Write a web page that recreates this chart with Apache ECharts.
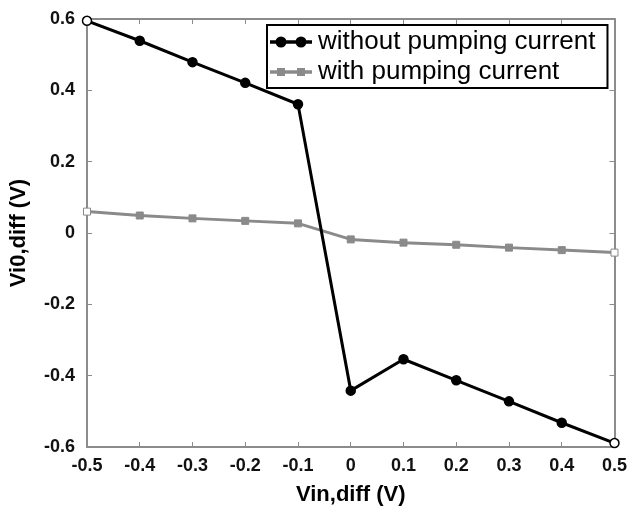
<!DOCTYPE html>
<html>
<head>
<meta charset="utf-8">
<script src="https://cdn.jsdelivr.net/npm/echarts@6/dist/echarts.min.js"></script>
<style>
  html, body { margin: 0; padding: 0; background: #fff; }
  #chart { width: 630px; height: 511px; }
</style>
</head>
<body>
<div id="chart"></div>
<script>
// Differential input voltage sweep (V)
const vinDiff = [-0.5, -0.4, -0.3, -0.2, -0.1, 0, 0.1, 0.2, 0.3, 0.4, 0.5];
// Differential offset output without the pumping current (V)
const withoutPumping = [0.595, 0.539, 0.479, 0.421, 0.361, -0.442, -0.354, -0.413, -0.472, -0.532, -0.589];
// Differential offset output with the pumping current (V)
const withPumping = [0.060, 0.049, 0.041, 0.034, 0.027, -0.018, -0.027, -0.033, -0.041, -0.048, -0.055];

const seriesNames = ['without pumping current', 'with pumping current'];

const AXIS_GREY = '#8c8c8c';
const LINE_GREY = '#8a8a8a';

// end points are drawn as open markers
function toPoints(xs, ys) {
  return xs.map((x, i) => {
    const p = { value: [x, ys[i]] };
    if (i === 0 || i === xs.length - 1) p.itemStyle = { color: '#fff' };
    return p;
  });
}

// legend glyphs: a line segment carrying two markers
const circleIcon = 'path://M0,4.2 L40,4.2 L40,5.8 L0,5.8 Z ' +
  'M10,5 m-4.5,0 a4.5,4.5 0 1,0 9,0 a4.5,4.5 0 1,0 -9,0 Z ' +
  'M30,5 m-4.5,0 a4.5,4.5 0 1,0 9,0 a4.5,4.5 0 1,0 -9,0 Z';
const squareIcon = 'path://M0,4.2 L40,4.2 L40,5.8 L0,5.8 Z ' +
  'M7,2 L13,2 L13,8 L7,8 Z M27,2 L33,2 L33,8 L27,8 Z';

const FONT = 'Liberation Sans, Arial, sans-serif';
const tickLabel = { fontFamily: FONT, fontWeight: 'bold', fontSize: 18, color: '#111' };
const titleStyle = { fontFamily: FONT, fontWeight: 'bold', fontSize: 22, color: '#000' };

const chart = echarts.init(document.getElementById('chart'), null, { renderer: 'canvas' });
chart.setOption({
  animation: false,
  backgroundColor: '#fff',
  grid: { left: 85, right: 14, top: 19, bottom: 63 },
  legend: {
    left: 267, top: 25,
    orient: 'vertical',
    backgroundColor: '#fff',
    borderColor: '#000', borderWidth: 2,
    padding: [4, 12, 3, 3],
    itemGap: 4,
    itemWidth: 40, itemHeight: 10,
    textStyle: { fontFamily: FONT, fontSize: 26, color: '#000', padding: [0, 0, 0, 2] },
    data: [
      { name: seriesNames[0], icon: circleIcon, itemStyle: { color: '#000' } },
      { name: seriesNames[1], icon: squareIcon, itemStyle: { color: LINE_GREY } }
    ]
  },
  xAxis: [{
    type: 'value', min: -0.5, max: 0.5, interval: 0.1,
    name: 'Vin,diff (V)', nameLocation: 'middle', nameGap: 37,
    nameTextStyle: titleStyle,
    axisLine: { onZero: false, lineStyle: { color: AXIS_GREY, width: 2 } },
    axisTick: { inside: true, length: 5, lineStyle: { color: AXIS_GREY } },
    axisLabel: Object.assign({ margin: 10 }, tickLabel),
    splitLine: { show: false }
  }, {
    type: 'value', position: 'top', min: -0.5, max: 0.5, interval: 0.1,
    axisLine: { onZero: false, lineStyle: { color: AXIS_GREY, width: 2 } },
    axisTick: { inside: true, length: 5, lineStyle: { color: AXIS_GREY } },
    axisLabel: { show: false }, splitLine: { show: false }
  }],
  yAxis: [{
    type: 'value', min: -0.6, max: 0.6, interval: 0.2,
    name: 'Vi0,diff (V)', nameLocation: 'middle', nameGap: 57,
    nameTextStyle: titleStyle,
    axisLine: { onZero: false, lineStyle: { color: AXIS_GREY, width: 2 } },
    axisTick: { inside: true, length: 5, lineStyle: { color: AXIS_GREY } },
    axisLabel: Object.assign({ margin: 12 }, tickLabel),
    splitLine: { show: false }
  }, {
    type: 'value', position: 'right', min: -0.6, max: 0.6, interval: 0.2,
    axisLine: { onZero: false, lineStyle: { color: AXIS_GREY, width: 2 } },
    axisTick: { inside: true, length: 5, lineStyle: { color: AXIS_GREY } },
    axisLabel: { show: false }, splitLine: { show: false }
  }],
  series: [{
    name: seriesNames[1], type: 'line',
    data: toPoints(vinDiff, withPumping),
    symbol: 'rect', symbolSize: 7,
    lineStyle: { color: LINE_GREY, width: 3 },
    itemStyle: { color: LINE_GREY, borderColor: LINE_GREY, borderWidth: 1 },
    z: 2
  }, {
    name: seriesNames[0], type: 'line',
    data: toPoints(vinDiff, withoutPumping),
    symbol: 'circle', symbolSize: 9,
    lineStyle: { color: '#000', width: 3 },
    itemStyle: { color: '#000', borderColor: '#000', borderWidth: 1.5 },
    z: 3
  }]
});
</script>
</body>
</html>
